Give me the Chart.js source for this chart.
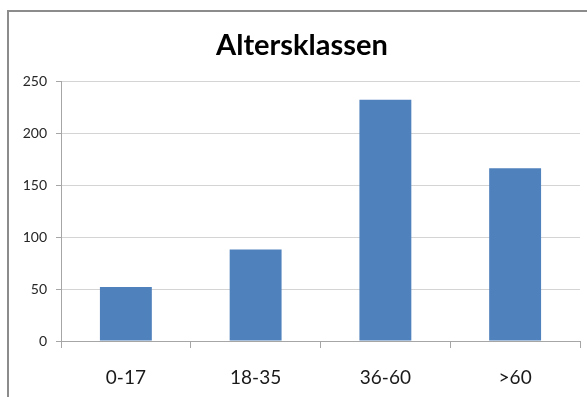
<!DOCTYPE html>
<html>
<head>
<meta charset="utf-8">
<script src="https://cdn.jsdelivr.net/npm/chart.js@4/dist/chart.umd.min.js"></script>
<style>
  html, body { margin: 0; padding: 0; background: #ffffff; }
  #wrap { position: relative; width: 587px; height: 397px; overflow: hidden; }
  #frame {
    position: absolute; left: 7px; top: 10px; width: 600px; height: 400px;
    border-left: 2px solid #8c8c8c; border-top: 2px solid #8c8c8c;
    box-sizing: border-box;
  }
  canvas { position: absolute; left: 0; top: 0; }
</style>
</head>
<body>
<div id="wrap">
  <div id="frame"></div>
  <canvas id="c" width="587" height="397"></canvas>
</div>
<script>
// Age classes and head counts
const categories = ['0-17', '18-35', '36-60', '>60'];
const counts = [52, 88, 232, 166];
const yTicks = [0, 50, 100, 150, 200, 250];
const chartTitle = 'Altersklassen';

const FONT = 'Lato, "Open Sans", "DejaVu Sans", sans-serif';

// Title drawn centred over the whole framed box rather than the plot
const titlePlugin = {
  id: 'boxTitle',
  afterDraw(chart) {
    const ctx = chart.ctx;
    ctx.save();
    ctx.fillStyle = '#000000';
    ctx.font = 'bold 29px ' + FONT;
    ctx.textAlign = 'center';
    ctx.textBaseline = 'alphabetic';
    ctx.fillText(chartTitle, 302, 55);
    ctx.restore();
  }
};

new Chart(document.getElementById('c'), {
  type: 'bar',
  data: {
    labels: categories,
    datasets: [{
      label: 'Anzahl',
      data: counts,
      backgroundColor: '#4f81bd',
      borderWidth: 0,
      barPercentage: 0.4,
      categoryPercentage: 1.0
    }]
  },
  plugins: [titlePlugin],
  options: {
    responsive: false,
    animation: false,
    devicePixelRatio: 1,
    layout: { padding: { left: 0, right: 7, top: 81, bottom: 0 } },
    plugins: {
      legend: { display: false },
      tooltip: { enabled: false },
      title: { display: false }
    },
    scales: {
      x: {
        offset: true,
        grid: {
          offset: true,
          drawOnChartArea: false,
          drawTicks: true,
          tickLength: 7,
          color: '#a6a6a6'
        },
        border: { display: true, color: '#a6a6a6', width: 1 },
        ticks: {
          color: '#1a1a1a',
          font: { family: FONT, size: 19 },
          padding: 18,
          maxRotation: 0
        },
        afterFit: (s) => { s.height = 56; }
      },
      y: {
        min: 0,
        max: 250,
        afterBuildTicks: (s) => { s.ticks = yTicks.map(v => ({ value: v })); },
        grid: {
          color: '#d4d4d4',
          drawTicks: true,
          tickLength: 5,
          tickColor: '#a6a6a6'
        },
        border: { display: true, color: '#a6a6a6', width: 1 },
        ticks: {
          color: '#262626',
          font: { family: FONT, size: 14 },
          padding: 9
        },
        afterFit: (s) => { s.width = 61; }
      }
    }
  }
});
</script>
</body>
</html>
